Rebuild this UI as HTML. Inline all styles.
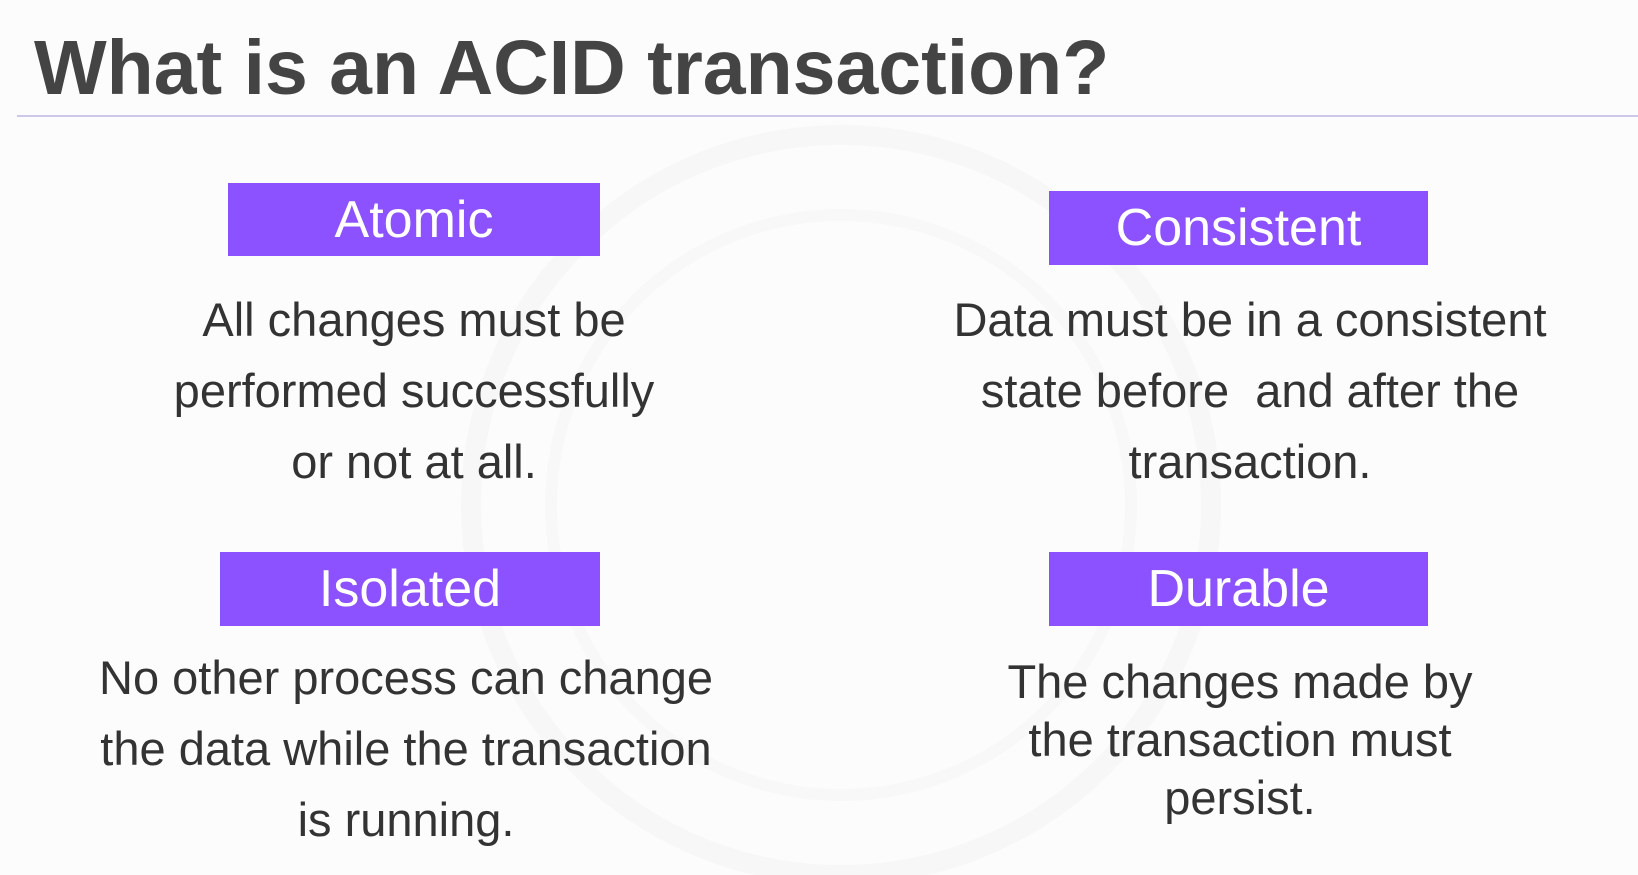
<!DOCTYPE html>
<html><head><meta charset="utf-8"><style>
body{margin:0;width:1638px;height:875px;background:#fcfcfc;overflow:hidden;position:relative;font-family:"Liberation Sans","DejaVu Sans",sans-serif;color:#333}
.t{position:absolute;left:34px;top:24px;font-size:77px;font-weight:bold;color:#444;white-space:nowrap}
.rule{position:absolute;left:17px;right:0;top:115px;height:2px;background:#cdc8ea}
.box{position:absolute;background:#8c52ff;color:#fff;font-size:52px;text-align:center;display:flex;align-items:center;justify-content:center}
.p{position:absolute;text-align:center;font-size:47px;white-space:nowrap;transform:translateX(-50%)}
</style></head><body>
<svg style="position:absolute;left:0;top:0" width="1638" height="875"><circle cx="841" cy="505" r="370" fill="none" stroke="#f7f7f7" stroke-width="20"/><circle cx="841" cy="505" r="290" fill="none" stroke="#f8f8f8" stroke-width="12"/></svg>
<div class="t">What is an ACID transaction?</div>
<div class="rule"></div>
<div class="box" style="left:228px;top:183px;width:372px;height:73px">Atomic</div>
<div class="box" style="left:1049px;top:191px;width:379px;height:74px">Consistent</div>
<div class="box" style="left:220px;top:552px;width:380px;height:74px">Isolated</div>
<div class="box" style="left:1049px;top:552px;width:379px;height:74px">Durable</div>
<div class="p" style="left:414px;top:284px;line-height:71px">All changes must be<br>performed successfully<br>or not at all.</div>
<div class="p" style="left:1250px;top:284px;line-height:71px">Data must be in a consistent<br>state before&nbsp; and after the<br>transaction.</div>
<div class="p" style="left:406px;top:642px;line-height:71px">No other process can change<br>the data while the transaction<br>is running.</div>
<div class="p" style="left:1240px;top:653px;line-height:58px">The changes made by<br>the transaction must<br>persist.</div>
</body></html>
